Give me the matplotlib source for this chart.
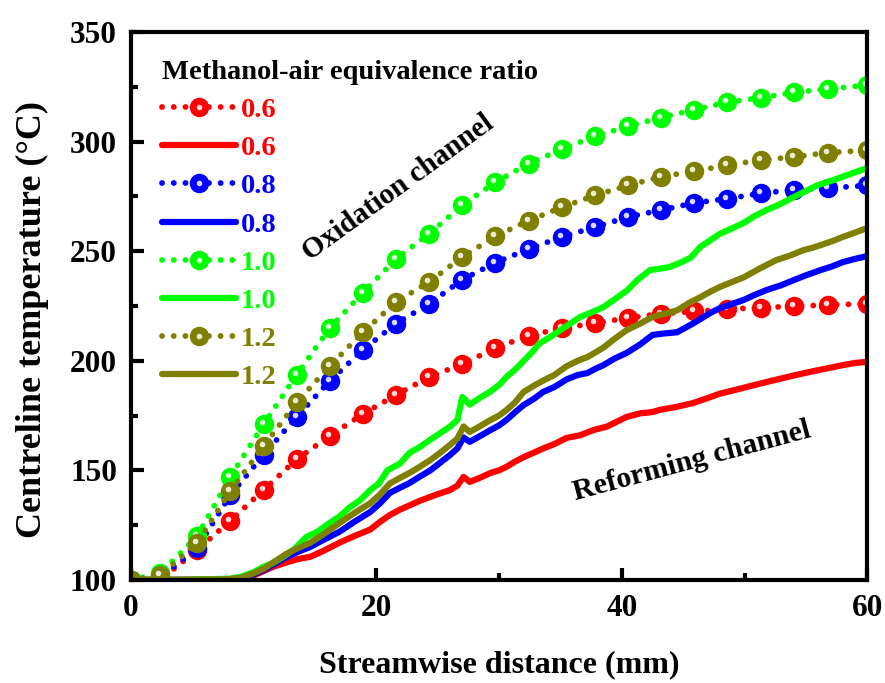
import numpy as np
import matplotlib
matplotlib.use('Agg')
import matplotlib.pyplot as plt
from matplotlib.transforms import offset_copy
from matplotlib.legend_handler import HandlerTuple
from matplotlib.ticker import MultipleLocator

plt.rcParams['font.family'] = ['Liberation Serif', 'DejaVu Serif']
plt.rcParams['font.weight'] = 'bold'

ratios = ['0.6', '0.8', '1.0', '1.2']
colors = ['#FF0000', '#0000FF', '#00FF00', '#808000']

# oxidation channel (dotted with markers)
x_ox = [0, 2.4, 5.4, 8.1, 10.8, 13.5, 16.2, 18.9, 21.6, 24.3, 27.0, 29.7,
        32.4, 35.1, 37.8, 40.5, 43.2, 45.9, 48.6, 51.3, 54.0, 56.8, 60.0]
ox_06 = [100, 100, 113.7, 127, 141, 155, 165.7, 175.7, 184.4, 192.6, 198.5, 205.8,
         211.5, 214.8, 217.2, 219.5, 221.5, 222.5, 223.5, 224.3, 224.8, 225.5, 226]
ox_08 = [100, 101, 114.6, 138.8, 157, 174.4, 190.8, 205, 217, 226, 237, 244.8,
         251, 256.5, 261, 265.6, 268.8, 272, 274, 276.4, 278, 278.8, 280]
ox_10 = [100, 103, 120, 147, 171, 193.5, 215, 231, 246.5, 258, 271, 281.5,
         290, 296.5, 302.5, 307, 311, 314.5, 318, 320, 322.5, 324, 325.8]
ox_12 = [100, 102, 117, 140.6, 161, 181, 197.6, 213, 226.8, 236, 247.4, 256.8,
         264, 270, 275.5, 280, 284, 286.5, 289.3, 291.6, 293, 295, 296]

# reforming channel (solid)
x_rf06 = [0, 4, 8, 9, 10, 10.8, 11.6, 12.7, 13.6, 14.6, 15.6, 17.0, 18.2, 19.5, 20.3,
          21.1, 21.9, 22.7, 23.5, 24.4, 25.2, 26.0, 26.6, 27.1, 27.6, 28.4, 29.3, 30.0,
          30.6, 31.3, 32.0, 32.8, 33.6, 34.5, 35.5, 36.6, 37.7, 38.8, 40.4, 41.5, 42.5,
          43.1, 44.5, 45.8, 47.0, 48.0, 49.1, 50.5, 52.3, 53.8, 55.3, 56.7, 58.0, 59.0, 60.0]
rf_06 = [100, 100, 100.2, 100.7, 102, 104, 106, 108, 109.5, 110.5, 113, 117, 120, 123, 126.5,
         129.6, 132, 134, 136, 137.9, 139.5, 141, 143, 147, 144.7, 146.5, 148.8, 150,
         151.6, 154, 156, 158, 160, 162, 164.8, 166, 168.4, 170, 174.4, 176, 176.6,
         177.6, 179, 180.7, 183, 185, 186.5, 188.5, 191, 193, 194.9, 196.5, 198, 199, 199.5]
x_rf08 = [0, 4, 8, 9, 10, 10.8, 11.6, 12.7, 13.6, 14.6, 15.6, 17.0, 18.2, 19.5, 20.3,
          21.1, 21.9, 22.7, 23.5, 24.4, 25.2, 26.0, 26.6, 27.1, 27.6, 28.4, 29.3, 30.0,
          30.6, 31.3, 32.0, 32.8, 33.6, 34.5, 35.5, 36.4, 37.2, 37.9, 38.5, 39.4, 40.4,
          41.5, 42.5, 43.5, 44.5, 45.8, 47.2, 48.0, 49.0, 49.9, 50.8, 51.8, 53.0, 54.0,
          55.0, 56.2, 57.1, 58.0, 59.0, 60.0]
rf_08 = [100, 100, 100.2, 100.8, 102.5, 104.5, 107, 110.5, 112.8, 115, 118, 122, 126.5, 131, 135,
         139.7, 142, 144.2, 147, 150, 153.5, 157, 160, 165, 163, 165.5, 168.4, 170.5,
         173, 176.5, 179.8, 182.5, 185.8, 188, 191.5, 193.5, 194.4, 196.5, 198, 201, 203.6,
         207.5, 211.8, 212.5, 213, 217, 221.8, 224, 226, 227.7, 230, 232.3, 234.5, 236.8,
         239, 241.4, 243, 245, 246.5, 247.8]
x_rf10 = [0, 4, 8, 9, 10, 10.8, 11.5, 12.4, 13.3, 14.3, 15.2, 16.2, 17.0, 17.8, 18.7,
          19.5, 20.2, 20.9, 21.9, 22.7, 23.5, 24.4, 25.2, 26.0, 26.6, 27.0, 27.6, 28.4,
          29.3, 30.0, 30.6, 31.3, 32.0, 32.7, 33.3, 34.2, 35.0, 35.8, 36.6, 37.5, 38.5,
          39.4, 40.4, 41.3, 42.3, 43.1, 43.9, 44.7, 45.6, 46.4, 47.2, 48.0, 49.0, 49.9,
          50.8, 51.8, 52.9, 54.0, 55.0, 55.9, 57.0, 58.0, 59.0, 60.0]
rf_10 = [100, 100, 100.5, 101.5, 103.5, 106, 107.5, 110.5, 114, 119.6, 122, 126, 129, 133, 136.5,
         141, 144, 150, 153, 158, 160.5, 164, 167, 170, 173, 183.5, 180, 183,
         186, 189, 192.6, 196, 200, 204, 208, 211, 214, 217, 220, 222, 224.5,
         228, 232, 237, 241.4, 242, 242.8, 244.6, 247, 252, 255, 258, 260.5, 262.8,
         266, 268.8, 271.5, 274.7, 277.5, 280, 282, 284, 286, 288]
x_rf12 = [0, 4, 8, 9, 10, 10.8, 11.6, 12.7, 13.6, 14.6, 15.6, 17.0, 18.2, 19.5, 20.3,
          21.1, 21.9, 22.7, 23.5, 24.4, 25.2, 26.0, 26.6, 27.1, 27.6, 28.4, 29.3, 30.0,
          30.6, 31.3, 32.0, 32.8, 33.6, 34.5, 35.5, 36.4, 37.2, 37.9, 38.5, 39.4, 40.4,
          41.5, 42.5, 43.5, 44.5, 45.5, 46.4, 47.2, 48.0, 49.0, 49.9, 51.2, 52.6, 53.7,
          54.8, 55.5, 56.2, 57.1, 58.0, 59.0, 60.0]
rf_12 = [100, 100, 100.3, 101, 103, 105, 108, 112, 114.5, 116.9, 120.5, 126, 130.5, 135, 139,
         144, 146.5, 148.8, 151.5, 154.7, 158, 161.6, 164.5, 170, 167.5, 170, 173, 175,
         177.5, 181, 185.8, 188.5, 191, 193.5, 197.5, 200, 201.7, 204, 206, 210, 214,
         217, 220, 221.5, 223, 226.5, 229, 231.5, 233.7, 236, 238, 242, 246, 248,
         250.5, 251.5, 252.8, 254.5, 256.5, 258.5, 260.6]

ox_data = [ox_06, ox_08, ox_10, ox_12]
rf_x = [x_rf06, x_rf08, x_rf10, x_rf12]
rf_data = [rf_06, rf_08, rf_10, rf_12]

fig = plt.figure(figsize=(8.85, 6.83), dpi=100)
ax = fig.add_axes([0.148, 0.151, 0.832, 0.802])
shine = offset_copy(ax.transData, fig=fig, x=-2, y=2, units='dots')

handles, labels = [], []
for c, r, oy, rx, ry in zip(colors, ratios, ox_data, rf_x, rf_data):
    l1, = ax.plot(x_ox, oy, color=c, lw=4.2, linestyle=(0, (0.01, 2.0)),
                  dash_capstyle='round', marker='o', ms=13, mec=c, mfc=c)
    ax.plot(x_ox, oy, ls='none', marker='o', ms=4, mfc='white', mec='none',
            alpha=0.85, transform=shine)
    hl, = ax.plot([], [], ls='none', marker='o', ms=4, mfc='white', mec='none', alpha=0.85)
    l2, = ax.plot(rx, ry, color=c, lw=4.5, solid_capstyle='round')
    handles += [(l1, hl), l2]
    labels += [r, r]

ax.set_xlim(0, 60)
ax.set_ylim(100, 350)
ax.xaxis.set_major_locator(MultipleLocator(20))
ax.xaxis.set_minor_locator(MultipleLocator(10))
ax.yaxis.set_major_locator(MultipleLocator(50))
ax.yaxis.set_minor_locator(MultipleLocator(25))
ax.tick_params(which='major', direction='in', length=9, width=3, labelsize=22.5, pad=10)
ax.tick_params(which='minor', direction='in', length=5, width=3)
for s in ax.spines.values():
    s.set_linewidth(3)
for t in ax.get_xticklabels() + ax.get_yticklabels():
    t.set_fontweight('bold')

ax.set_xlabel('Streamwise distance (mm)', fontsize=23, fontweight='bold', labelpad=20)
ax.set_ylabel('Centreline temperature (°C)', fontsize=26, fontweight='bold')
ax.yaxis.set_label_coords(-0.112, 0.475)

leg = ax.legend(handles, labels, handler_map={tuple: HandlerTuple(ndivide=1, pad=0)},
                loc='upper left', bbox_to_anchor=(0.027, 0.97), frameon=False,
                fontsize=20.5, title='Methanol-air equivalence ratio',
                title_fontproperties={'size': 20.5, 'weight': 'bold'},
                handlelength=2.6, handletextpad=0.15, labelspacing=0.43,
                alignment='left', borderaxespad=0)
for txt, c in zip(leg.get_texts(), [c for c in colors for _ in range(2)]):
    txt.set_color(c)

ax.text(21.8, 279, 'Oxidation channel', rotation=36, fontsize=21, fontweight='bold',
        ha='center', va='center')
ax.text(45.7, 154, 'Reforming channel', rotation=15, fontsize=21.5, fontweight='bold',
        ha='center', va='center')

fig.savefig('out.png', dpi=100)
plt.close(fig)
